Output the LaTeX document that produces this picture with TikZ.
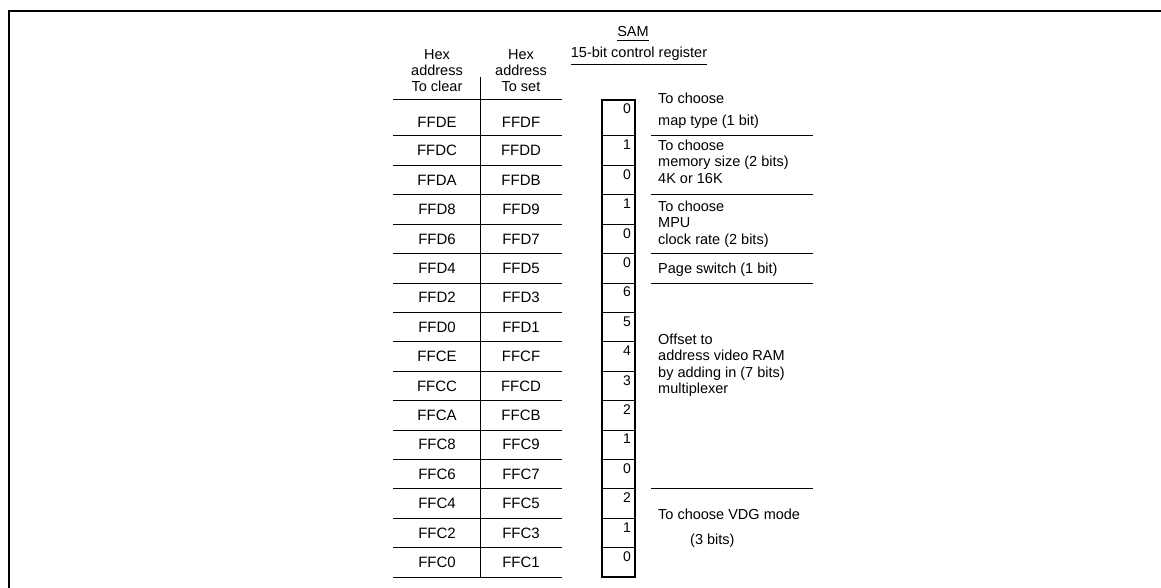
\documentclass[tikz,border=0pt]{standalone}
\usepackage{fontspec}
\setmainfont{Liberation Sans}
\newcommand{\bitfont}{\fontsize{14}{16}\selectfont}
\begin{document}
\begin{tikzpicture}[x=1pt,y=-1pt,
  rule/.style={line width=1pt},
  frameline/.style={line width=1.8pt},
  tbl/.style={font=\fontsize{15}{16}\selectfont, inner sep=0pt},
  hdr/.style={font=\fontsize{14.5}{16}\selectfont, align=center, inner sep=0pt},
  lbl/.style={font=\fontsize{14.5}{16.5}\selectfont, align=left, inner sep=0pt, anchor=north west},
  bitnum/.style={font=\bitfont, inner sep=0pt, anchor=north east}]
\useasboundingbox (0,0) rectangle (1161,588);
% frame (top and left edges)
\draw[frameline] (9,588) -- (9,11) -- (1161,11);
% titles
\node[hdr, anchor=base] (sam) at (633,37) {SAM};
\draw[line width=1.1pt] ([yshift=-3.5pt]sam.base west) -- ([yshift=-3.5pt]sam.base east);
\node[hdr, anchor=base] (reg) at (639,58) {15-bit control register};
\draw[line width=1pt] ([yshift=-7pt]reg.base west) -- ([yshift=-7pt]reg.base east);
% table header
\node[hdr] (hclr) at (437,71) {Hex\\address\\To clear};
\node[hdr] (hset) at (521,71) {Hex\\address\\To set};
\draw[line width=0.8pt, double, double distance=0.9pt] (393,100) -- (562,100);
\draw[line width=1pt] (480,77) -- (480,577);
% register box
\draw[line width=1.3pt] (602,100) rectangle (635,577);
% rows
\foreach \i/\a/\b/\bv in {1/FFDE/FFDF/0, 2/FFDC/FFDD/1, 3/FFDA/FFDB/0, 4/FFD8/FFD9/1,
  5/FFD6/FFD7/0, 6/FFD4/FFD5/0, 7/FFD2/FFD3/6, 8/FFD0/FFD1/5, 9/FFCE/FFCF/4,
  10/FFCC/FFCD/3, 11/FFCA/FFCB/2, 12/FFC8/FFC9/1, 13/FFC6/FFC7/0, 14/FFC4/FFC5/2,
  15/FFC2/FFC3/1, 16/FFC0/FFC1/0}{
  \pgfmathsetmacro{\yb}{136+(\i-1)*29.4}
  \pgfmathsetmacro{\yt}{\i==1 ? 100 : \yb-29.4}
  \pgfmathsetmacro{\yc}{\i==1 ? 122 : \yb-14.7}
  \node[tbl] (cl\i) at (437,\yc) {\a};
  \node[tbl] (st\i) at (521,\yc) {\b};
  \node[bitnum] (bit\i) at (631,\yt+4) {\bv};
  \draw[rule] (393,\yb) -- (562,\yb);
  \draw[line width=1pt] (602,\yb) -- (635,\yb);
}
% right-hand separators
\foreach \y in {136, 194.8, 253.6, 283, 488.8}
  \draw[rule] (651,\y) -- (813,\y);
% right-hand labels
\node[lbl] (lmap) at (658,92.6) {To choose\\[6pt]map type (1 bit)};
\node[lbl] (lmem) at (658,139.6) {To choose\\memory size (2 bits)\\4K or 16K};
\node[lbl] (lclk) at (658,200.6) {To choose\\MPU\\clock rate (2 bits)};
\node[lbl] (lpage) at (658,262.6) {Page switch (1 bit)};
\node[lbl] (loff) at (658,333.6) {Offset to\\address video RAM\\by adding in (7 bits)\\multiplexer};
\node[lbl] (lvdg) at (658,508.6) {To choose VDG mode\\[9pt]\hspace*{32pt}(3 bits)};
\end{tikzpicture}
\end{document}
